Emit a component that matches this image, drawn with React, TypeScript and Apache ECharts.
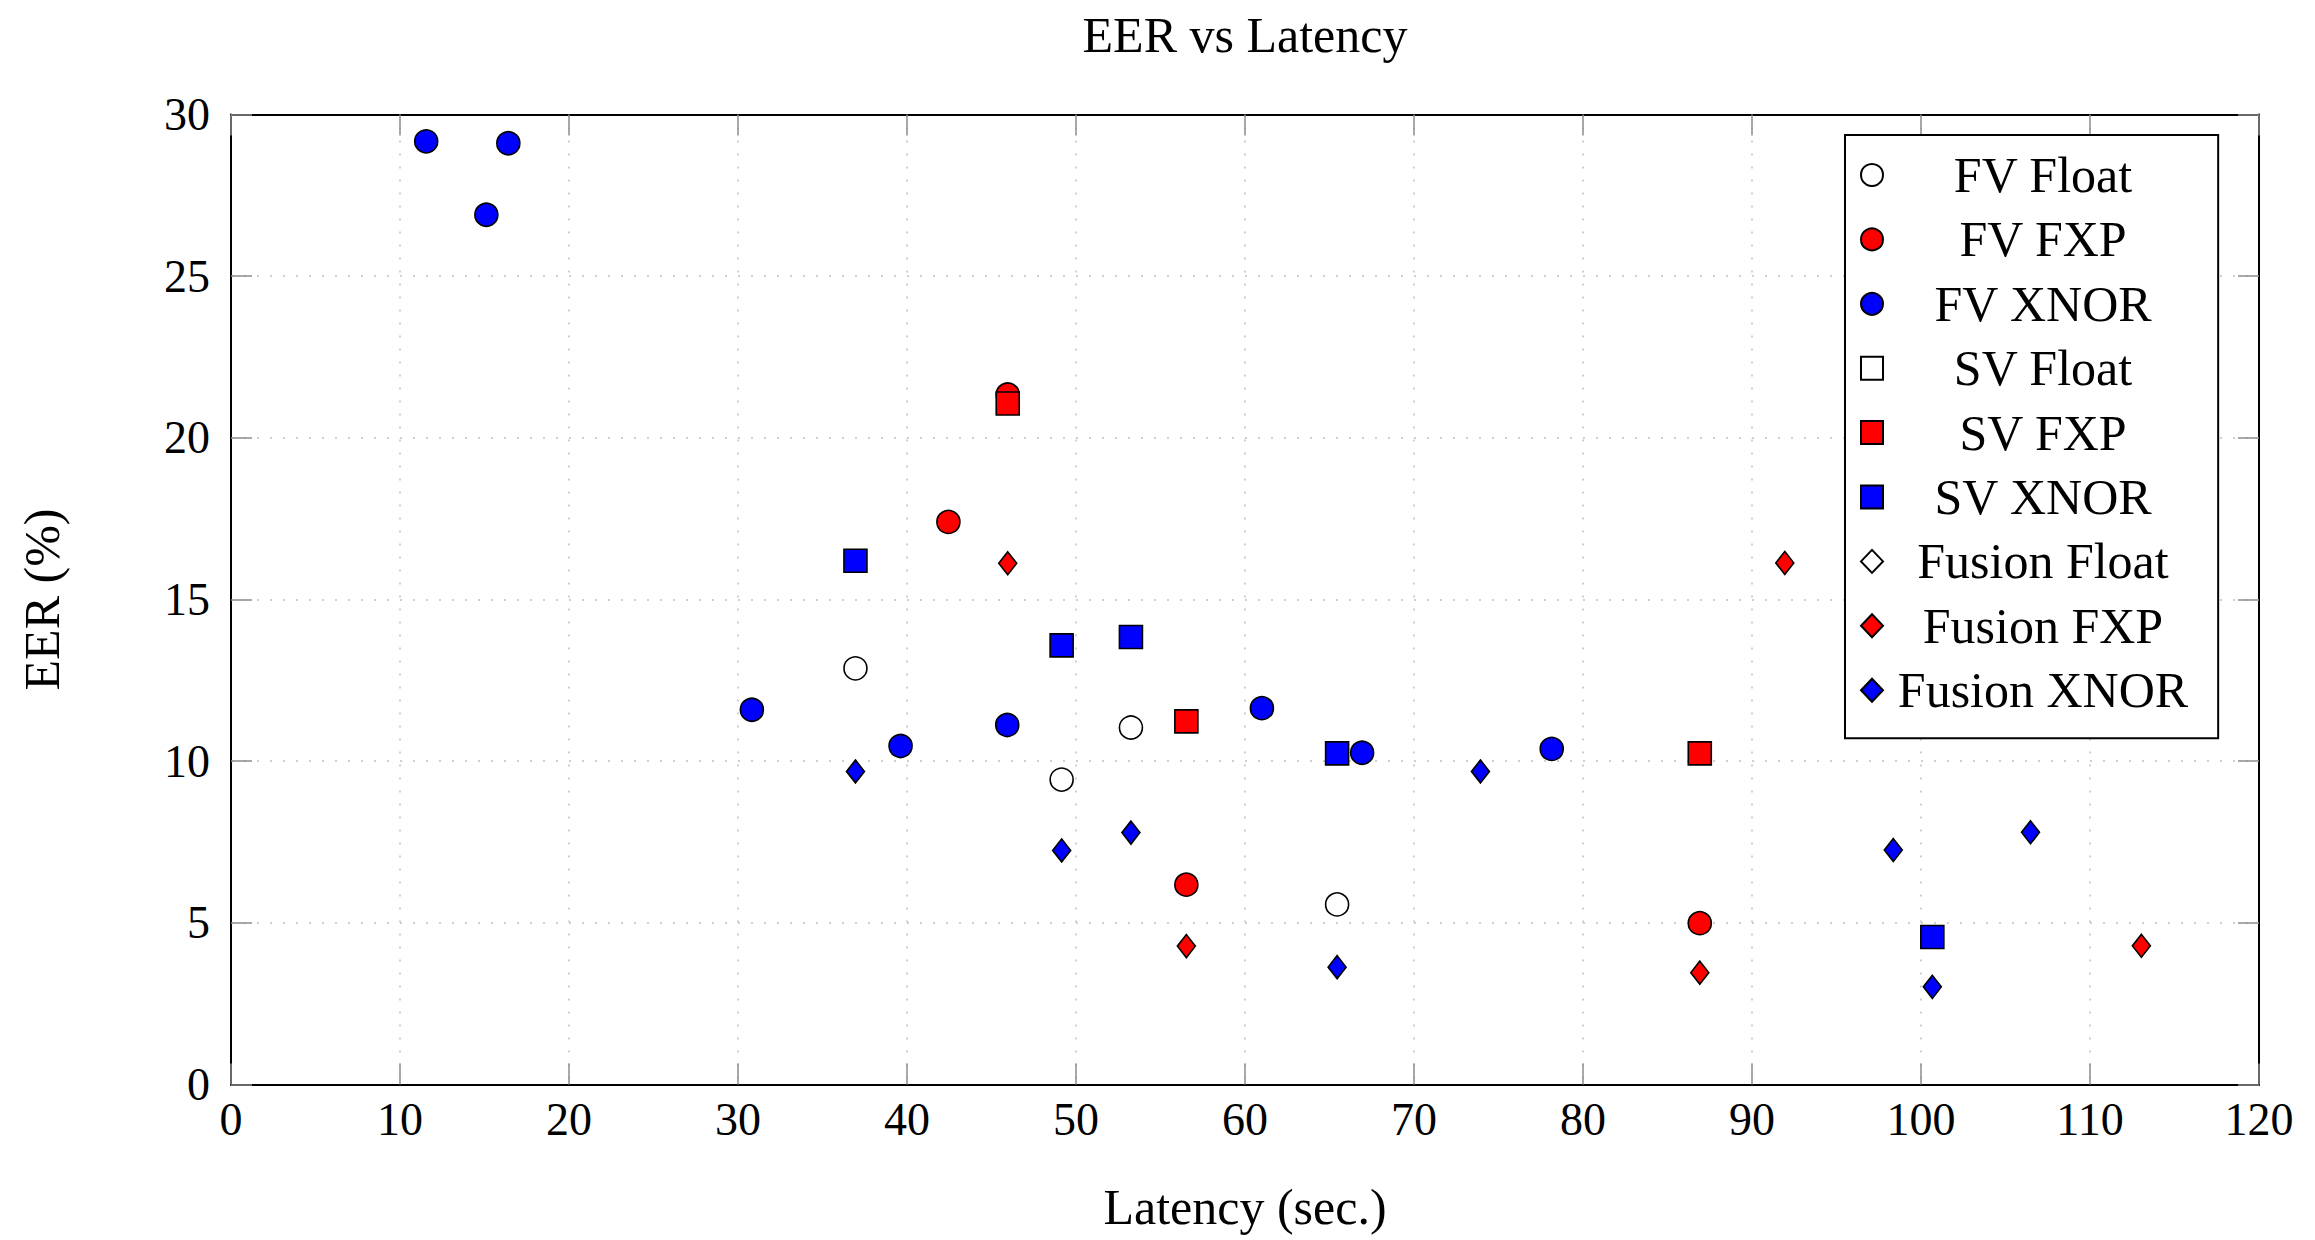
import React, { useEffect, useRef } from "react";
import * as echarts from "echarts";

const seriesNames = [
  "FV Float",
  "FV FXP",
  "FV XNOR",
  "SV Float",
  "SV FXP",
  "SV XNOR",
  "Fusion Float",
  "Fusion FXP",
  "Fusion XNOR",
];

const xTicks = { min: 0, max: 120, interval: 10 };
const yTicks = { min: 0, max: 30, interval: 5 };

// [latency (sec.), EER (%)]
const fvFloat = [
  [36.95, 12.87],
  [49.15, 9.43],
  [53.25, 11.04],
  [65.45, 5.57],
];
const fvFxp = [
  [42.45, 17.4],
  [45.96, 21.34],
  [56.53, 6.18],
  [86.91, 4.99],
];
const fvXnor = [
  [11.55, 29.17],
  [15.11, 26.9],
  [16.41, 29.11],
  [30.82, 11.59],
  [39.62, 10.47],
  [45.93, 11.12],
  [61.0, 11.64],
  [66.93, 10.26],
  [78.15, 10.38],
];
const svFloat: number[][] = [];
const svFxp = [
  [45.96, 21.06],
  [56.53, 11.23],
  [86.91, 10.24],
];
const svXnor = [
  [36.95, 16.2],
  [49.15, 13.58],
  [53.25, 13.84],
  [65.45, 10.24],
  [100.67, 4.56],
];
const fusionFloat: number[][] = [];
const fusionFxp = [
  [45.96, 16.12],
  [56.53, 4.28],
  [86.91, 3.46],
  [91.94, 16.13],
  [113.04, 4.29],
];
const fusionXnor = [
  [36.95, 9.68],
  [49.15, 7.24],
  [53.25, 7.79],
  [65.45, 3.63],
  [73.93, 9.68],
  [98.36, 7.25],
  [100.67, 3.02],
  [106.48, 7.8],
];

const seriesData = [fvFloat, fvFxp, fvXnor, svFloat, svFxp, svXnor, fusionFloat, fusionFxp, fusionXnor];
const seriesColors = ["#ffffff", "#ff0000", "#0000ff", "#ffffff", "#ff0000", "#0000ff", "#ffffff", "#ff0000", "#0000ff"];
const seriesSymbols = ["circle", "circle", "circle", "rect", "rect", "rect", "diamond", "diamond", "diamond"];

const FONT = "'Liberation Serif', 'DejaVu Serif', serif";

export default function App() {
  const ref = useRef<HTMLDivElement>(null);

  useEffect(() => {
    if (!ref.current) return;
    const chart = echarts.init(ref.current, null, { renderer: "svg" });

    const tickStyle = { show: true, inside: true, length: 21, lineStyle: { color: "#8c8c8c", width: 1.5 } };
    const axisLine = { show: true, onZero: false, lineStyle: { color: "#000", width: 2 } };
    const splitLine = { show: true, lineStyle: { color: "#cfcfcf", width: 2, type: [2, 11] as any } };

    const series = seriesNames.map((name, i) => ({
      name,
      type: "scatter",
      xAxisIndex: 0,
      yAxisIndex: 0,
      data: seriesData[i],
      symbol: seriesSymbols[i],
      symbolSize: seriesSymbols[i] === "diamond" ? [18, 23] : 23,
      itemStyle: { color: seriesColors[i], borderColor: "#000", borderWidth: 1.6, opacity: 1 },
      z: 2 + i,
    }));

    chart.setOption({
      animation: false,
      backgroundColor: "#fff",
      title: {
        text: "EER vs Latency",
        left: 1245,
        textAlign: "center",
        top: 10,
        padding: 0,
        textStyle: { fontFamily: FONT, fontSize: 50, fontWeight: "normal", color: "#000" },
      },
      grid: { left: 231, right: 56, top: 114.5, bottom: 155.5, containLabel: false },
      legend: {
        orient: "vertical",
        left: 1845,
        top: 135,
        padding: [15, 30, 23, 15],
        itemGap: 14.4,
        itemWidth: 22,
        itemHeight: 23,
        backgroundColor: "#fff",
        borderColor: "#000",
        borderWidth: 2,
        borderRadius: 0,
        selectedMode: false,
        data: seriesNames,
        formatter: (name: string) => `{t|${name}}`,
        textStyle: {
          fontFamily: FONT,
          fontSize: 50,
          color: "#000",
          rich: {
            t: { fontFamily: FONT, fontSize: 50, color: "#000", width: 310, align: "center" },
          },
        },
      },
      xAxis: [
        {
          type: "value",
          position: "bottom",
          min: xTicks.min,
          max: xTicks.max,
          interval: xTicks.interval,
          name: "Latency (sec.)",
          nameLocation: "middle",
          nameGap: 97,
          nameTextStyle: { fontFamily: FONT, fontSize: 50, color: "#000" },
          axisLine,
          axisTick: tickStyle,
          axisLabel: { fontFamily: FONT, fontSize: 46, color: "#000", margin: 12 },
          splitLine,
        },
        {
          type: "value",
          position: "top",
          min: xTicks.min,
          max: xTicks.max,
          interval: xTicks.interval,
          axisLine,
          axisTick: tickStyle,
          axisLabel: { show: false },
          splitLine: { show: false },
        },
      ],
      yAxis: [
        {
          type: "value",
          position: "left",
          min: yTicks.min,
          max: yTicks.max,
          interval: yTicks.interval,
          name: "EER (%)",
          nameLocation: "middle",
          nameGap: 164,
          nameRotate: 90,
          nameTextStyle: { fontFamily: FONT, fontSize: 50, color: "#000" },
          axisLine,
          axisTick: tickStyle,
          axisLabel: { fontFamily: FONT, fontSize: 46, color: "#000", margin: 21 },
          splitLine,
        },
        {
          type: "value",
          position: "right",
          min: yTicks.min,
          max: yTicks.max,
          interval: yTicks.interval,
          axisLine,
          axisTick: tickStyle,
          axisLabel: { show: false },
          splitLine: { show: false },
        },
      ],
      series,
    });

    return () => chart.dispose();
  }, []);

  return (
    <div
      ref={ref}
      style={{ position: "fixed", left: 0, top: 0, width: 2315, height: 1240, background: "#fff" }}
    />
  );
}
